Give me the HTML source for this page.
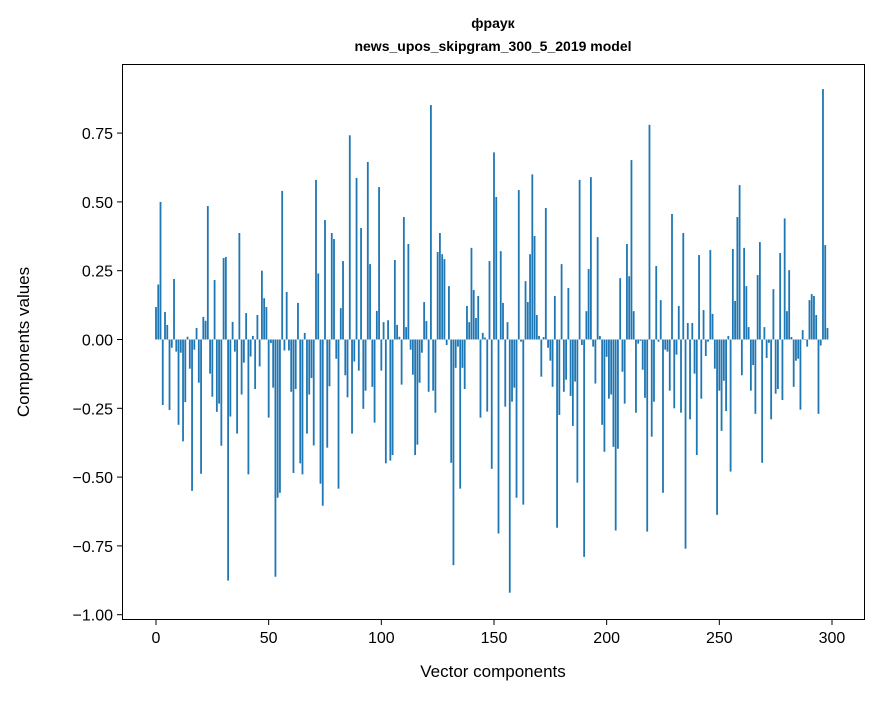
<!DOCTYPE html>
<html><head><meta charset="utf-8"><style>
body{margin:0;background:#fff;}
svg text{font-family:"Liberation Sans","DejaVu Sans",sans-serif;fill:#000;}
</style></head><body>
<svg id="chart" width="880" height="696" xmlns="http://www.w3.org/2000/svg">
<rect width="880" height="696" fill="#fff"/>
<text x="493" y="28" text-anchor="middle" font-size="14" font-weight="bold">фраук</text>
<text x="493" y="51" text-anchor="middle" font-size="14" font-weight="bold">news_upos_skipgram_300_5_2019 model</text>
<g id="bars"></g>
<rect x="122.5" y="64.5" width="742" height="555" fill="none" stroke="#000" stroke-width="1"/>
<g id="xaxis"></g>
<g id="yaxis"></g>
<text x="493" y="677" text-anchor="middle" font-size="17">Vector components</text>
<text transform="translate(29,342) rotate(-90)" text-anchor="middle" font-size="17">Components values</text>
</svg>
<script>
const values = [0.118,0.20,0.50,-0.238,0.10,0.053,-0.256,-0.03,0.22,-0.044,
-0.31,-0.048,-0.37,-0.227,0.01,-0.106,-0.55,-0.037,0.042,-0.157,
-0.488,0.082,0.068,0.485,-0.124,-0.208,0.216,-0.263,-0.233,-0.386,
0.296,0.30,-0.876,-0.28,0.064,-0.044,-0.342,0.387,-0.20,-0.084,
0.096,-0.49,-0.062,0.013,-0.18,0.089,-0.098,0.25,0.15,0.118,
-0.284,-0.013,-0.175,-0.862,-0.575,-0.557,0.54,-0.04,0.173,-0.04,
-0.19,-0.485,-0.18,0.133,-0.45,-0.49,0.024,-0.342,-0.2,-0.14,
-0.385,0.58,0.24,-0.524,-0.604,0.434,-0.393,-0.17,0.387,0.365,
-0.07,-0.542,0.114,0.285,-0.13,-0.21,0.742,-0.342,-0.08,0.587,
-0.113,0.405,-0.252,-0.186,0.645,0.274,-0.172,-0.302,0.104,0.554,
-0.113,0.063,-0.45,0.07,-0.44,-0.42,0.289,0.053,0.01,-0.164,
0.445,0.045,0.347,-0.037,-0.128,-0.42,-0.382,-0.157,-0.048,0.136,
0.067,-0.19,0.852,-0.186,-0.266,0.318,0.387,0.31,0.292,-0.02,
0.194,-0.448,-0.82,-0.103,-0.026,-0.542,-0.103,-0.18,0.122,0.063,
0.333,0.18,0.078,0.158,-0.284,0.024,0.007,-0.262,0.285,-0.47,
0.68,0.518,-0.705,0.321,0.133,-0.244,0.063,-0.92,-0.226,-0.175,
-0.575,0.543,-0.008,-0.6,0.212,0.136,0.31,0.6,0.376,0.089,
0.013,-0.135,0.009,0.478,-0.03,-0.077,-0.172,0.158,-0.684,-0.274,
0.274,-0.19,-0.146,0.187,-0.205,-0.314,-0.153,-0.52,0.58,-0.02,
-0.79,0.103,0.256,0.59,-0.026,-0.16,0.372,0.013,-0.31,-0.408,
-0.063,-0.215,-0.2,-0.39,-0.694,-0.397,0.223,-0.117,-0.233,0.347,
0.23,0.652,0.103,-0.266,-0.015,-0.005,-0.11,-0.212,-0.698,0.78,
-0.353,-0.226,0.267,-0.008,0.143,-0.557,-0.037,-0.044,-0.186,0.456,
-0.25,-0.055,0.122,-0.266,0.387,-0.76,0.06,-0.29,0.06,-0.124,
-0.42,0.307,-0.215,0.107,-0.06,-0.008,0.325,0.093,-0.106,-0.637,
-0.186,-0.332,-0.15,-0.26,0.013,-0.48,0.329,0.14,0.445,0.561,
-0.13,0.333,0.194,0.045,-0.186,-0.093,-0.27,0.234,0.354,-0.448,
0.045,-0.067,-0.012,-0.29,0.183,-0.197,-0.18,0.314,-0.22,0.44,
0.103,0.252,0.009,-0.172,-0.077,-0.07,-0.255,0.034,-0.002,-0.026,
0.143,0.165,0.158,0.089,-0.27,-0.022,0.91,0.343,0.042];
const xTicks = [0,50,100,150,200,250,300];
const yTicks = [0.75,0.5,0.25,0,-0.25,-0.5,-0.75,-1.0];
const yTickLabels = ["0.75","0.50","0.25","0.00","\u22120.25","\u22120.50","\u22120.75","\u22121.00"];

const NS="http://www.w3.org/2000/svg";
function xs(i){return 156+2.2533*i;}
function ys(v){return 339.5-275.2*v;}
const barsG=document.getElementById('bars');
values.forEach((v,i)=>{
  const r=document.createElementNS(NS,'rect');
  
  
  const y0=ys(0), y1=ys(v);
  r.setAttribute('x',xs(i)-0.9);
  r.setAttribute('width',1.8);
  r.setAttribute('y',Math.min(y0,y1));
  r.setAttribute('height',Math.abs(y1-y0));
  r.setAttribute('fill','#1f77b4');
  barsG.appendChild(r);
});
const xa=document.getElementById('xaxis');
xTicks.forEach(t=>{
  const l=document.createElementNS(NS,'line');
  
  
  l.setAttribute('x1',xs(t));l.setAttribute('x2',xs(t));
  l.setAttribute('y1',620);l.setAttribute('y2',625);
  l.setAttribute('stroke','#000');
  xa.appendChild(l);
  const tx=document.createElementNS(NS,'text');
  
  
  tx.setAttribute('x',xs(t));tx.setAttribute('y',643);
  tx.setAttribute('text-anchor','middle');tx.setAttribute('font-size','16');
  tx.textContent=String(t);
  xa.appendChild(tx);
});
const ya=document.getElementById('yaxis');
yTicks.forEach((t,k)=>{
  const l=document.createElementNS(NS,'line');
  
  
  l.setAttribute('x1',117);l.setAttribute('x2',122);
  l.setAttribute('y1',ys(t));l.setAttribute('y2',ys(t));
  l.setAttribute('stroke','#000');
  ya.appendChild(l);
  const tx=document.createElementNS(NS,'text');
  
  
  tx.setAttribute('x',113);tx.setAttribute('y',ys(t)+6);
  tx.setAttribute('text-anchor','end');tx.setAttribute('font-size','16');
  tx.textContent=yTickLabels[k];
  ya.appendChild(tx);
});
</script>
</body></html>
